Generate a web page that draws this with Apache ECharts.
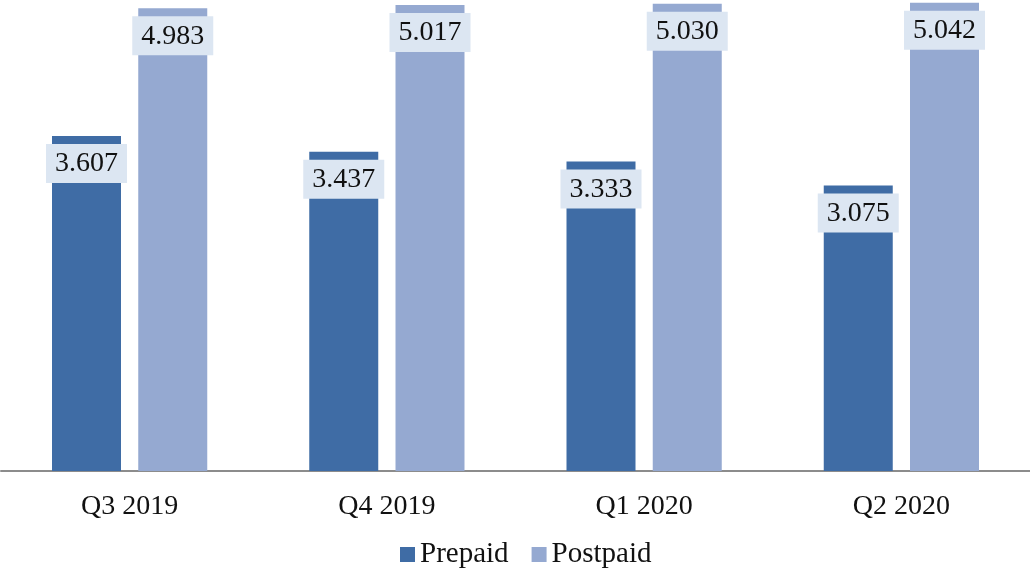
<!DOCTYPE html>
<html>
<head>
<meta charset="utf-8">
<script src="https://cdn.jsdelivr.net/npm/echarts@6/dist/echarts.min.js"></script>
<style>
  html, body { margin: 0; padding: 0; background: #fff; }
  #chart { width: 1030px; height: 571px; }
</style>
</head>
<body>
<div id="chart"></div>
<script>
var categories = ['Q3 2019', 'Q4 2019', 'Q1 2020', 'Q2 2020'];
var prepaid = [3.607, 3.437, 3.333, 3.075];
var postpaid = [4.983, 5.017, 5.030, 5.042];

var fontFam = '"Liberation Serif", "DejaVu Serif", serif';

var valueLabel = {
  show: true,
  position: 'insideTop',
  distance: 8,
  formatter: function (p) { return p.value.toFixed(3); },
  color: '#111',
  fontFamily: fontFam,
  fontSize: 28,
  backgroundColor: '#DCE6F2',
  padding: [6, 9, 5, 9]
};

var chart = echarts.init(document.getElementById('chart'));
chart.setOption({
  animation: false,
  grid: { left: 1, right: 0, top: 2, bottom: 100 },
  legend: {
    bottom: -3,
    left: 395,
    icon: 'rect',
    itemWidth: 15,
    itemHeight: 15,
    itemGap: 23,
    textStyle: { fontFamily: fontFam, fontSize: 29, color: '#111' },
    data: ['Prepaid', 'Postpaid']
  },
  xAxis: {
    type: 'category',
    data: categories,
    axisLine: { lineStyle: { color: '#8c8c8c', width: 2 } },
    axisTick: { show: false },
    axisLabel: { fontFamily: fontFam, fontSize: 28, color: '#111', margin: 22 }
  },
  yAxis: {
    type: 'value',
    min: 0,
    max: 5.05,
    show: false,
    splitLine: { show: false }
  },
  series: [
    {
      name: 'Prepaid',
      type: 'bar',
      data: prepaid,
      barWidth: 69,
      barGap: '25%',
      itemStyle: { color: '#3F6CA5' },
      label: valueLabel
    },
    {
      name: 'Postpaid',
      type: 'bar',
      data: postpaid,
      barWidth: 69,
      itemStyle: { color: '#95A9D1' },
      label: valueLabel
    }
  ]
});
</script>
</body>
</html>
